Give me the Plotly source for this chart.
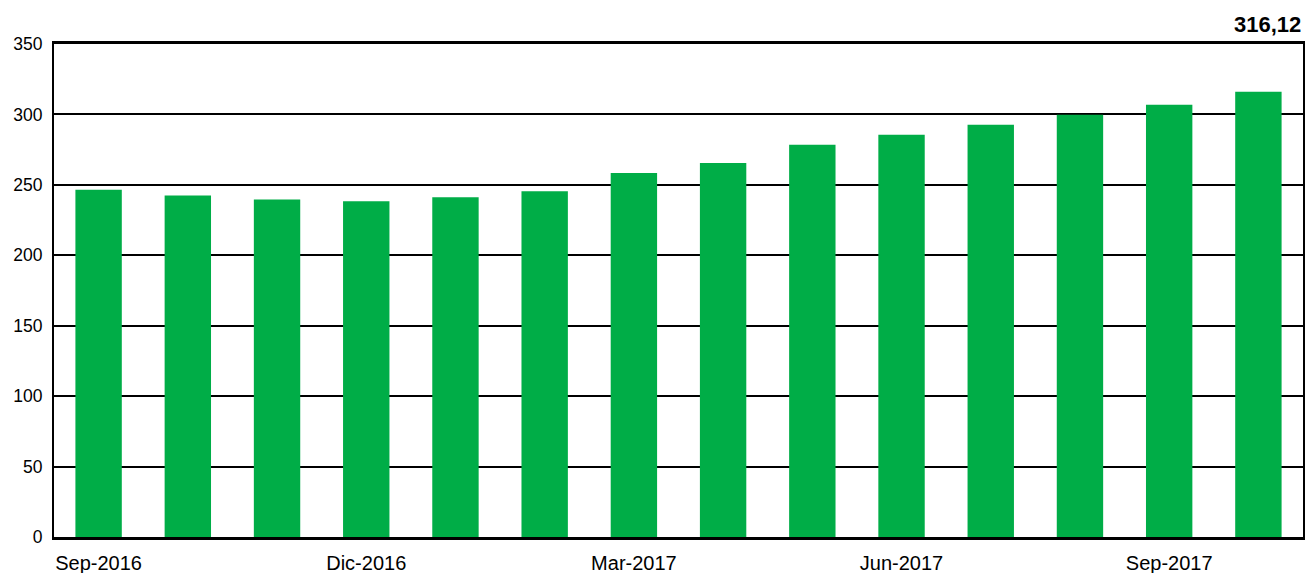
import plotly.graph_objects as go

months = ["Sep-2016", "Oct-2016", "Nov-2016", "Dic-2016", "Ene-2017", "Feb-2017",
          "Mar-2017", "Abr-2017", "May-2017", "Jun-2017", "Jul-2017", "Ago-2017",
          "Sep-2017", "Oct-2017"]
values = [246.6, 242.4, 239.6, 238.4, 241.2, 245.5, 258.4, 265.5, 278.4, 285.5,
          292.6, 299.8, 306.9, 316.12]
tick_labels = ["Sep-2016", "Dic-2016", "Mar-2017", "Jun-2017", "Sep-2017"]
last_label = "316,12"

fig = go.Figure()
fig.add_trace(go.Bar(x=months, y=values, marker=dict(color="#00AD47", line=dict(width=0)),
                     hoverinfo="x+y"))

fig.add_annotation(x=1, xref="paper", y=1, yref="paper", yshift=5,
                   text="<b>" + last_label + "</b>", showarrow=False,
                   xanchor="right", yanchor="bottom",
                   font=dict(family="Liberation Sans, Arial", size=22, color="black"))

fig.update_layout(
    width=1306, height=573,
    margin=dict(l=54, r=3, t=44, b=36, autoexpand=False),
    paper_bgcolor="white", plot_bgcolor="white",
    bargap=0.48, showlegend=False,
    font=dict(family="Liberation Sans, Arial", size=17, color="black"),
)
fig.update_xaxes(
    type="category", automargin=False,
    tickmode="array", tickvals=tick_labels, ticktext=tick_labels,
    showline=True, linecolor="black", linewidth=3, mirror=True,
    showgrid=False, ticks="", ticklabelstandoff=6,
    tickfont=dict(size=20),
)
fig.update_yaxes(
    range=[0, 350], dtick=50, tick0=0, automargin=False,
    showgrid=True, gridcolor="black", gridwidth=2,
    showline=True, linecolor="black", linewidth=2, mirror=True,
    ticks="", ticklabelstandoff=6, zeroline=False,
    tickfont=dict(size=17.5),
)

fig.write_html("out.html")
